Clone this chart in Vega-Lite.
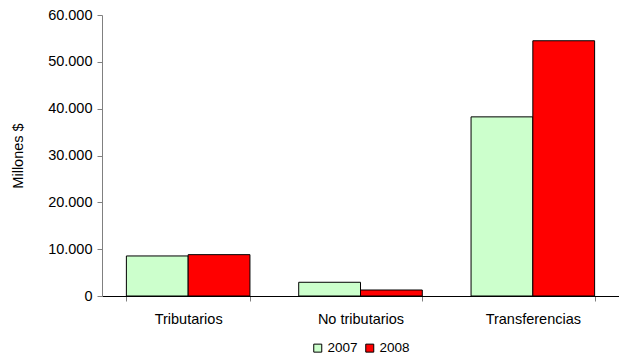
{
  "$schema": "https://vega.github.io/schema/vega-lite/v6.json",
  "autosize": {"type": "none"},
  "width": 517,
  "height": 281,
  "padding": {"left": 102, "top": 15, "right": 0, "bottom": 64},
  "background": "white",
  "config": {
    "view": {"stroke": null},
    "font": "Liberation Sans",
    "locale": {"number": {"decimal": ",", "thousands": ".", "grouping": [3], "currency": ["$", ""]}},
    "axis": {"labelFont": "Liberation Sans", "labelFontSize": 14.5, "labelColor": "black", "domainColor": "#808080", "tickColor": "#808080", "grid": false, "titleFont": "Liberation Sans", "titleFontWeight": "normal", "titleFontSize": 14.5, "titleColor": "black"}
  },
  "data": {
    "values": [
      {"categoria": "Tributarios", "anio": "2007", "valor": 8550},
      {"categoria": "Tributarios", "anio": "2008", "valor": 8830},
      {"categoria": "No tributarios", "anio": "2007", "valor": 2930},
      {"categoria": "No tributarios", "anio": "2008", "valor": 1280},
      {"categoria": "Transferencias", "anio": "2007", "valor": 38250},
      {"categoria": "Transferencias", "anio": "2008", "valor": 54500}
    ]
  },
  "mark": {"type": "bar", "stroke": "black", "strokeWidth": 1},
  "encoding": {
    "x": {
      "field": "categoria", "type": "nominal", "sort": null,
      "scale": {"paddingInner": 0.283, "paddingOuter": 0.1415},
      "axis": {"title": null, "labelAngle": 0, "tickBand": "extent", "tickSize": 5, "labelPadding": 11, "domainColor": "black"}
    },
    "xOffset": {"field": "anio", "type": "nominal", "scale": {"paddingInner": 0, "paddingOuter": 0}},
    "y": {
      "field": "valor", "type": "quantitative",
      "scale": {"domain": [0, 60000], "nice": false},
      "axis": {"title": "Millones $", "format": ",.0f", "values": [0, 10000, 20000, 30000, 40000, 50000, 60000], "tickSize": 5, "labelPadding": 5, "titlePadding": 22}
    },
    "fill": {
      "field": "anio", "type": "nominal",
      "scale": {"domain": ["2007", "2008"], "range": ["#CCFFCC", "#FF0000"]},
      "legend": {"title": null, "orient": "none", "legendX": 209, "legendY": 326, "padding": 0, "direction": "horizontal", "symbolType": "square", "symbolSize": 64, "symbolStrokeColor": "black", "symbolStrokeWidth": 1, "labelFontSize": 13.5, "labelFont": "Liberation Sans", "labelColor": "black", "columnPadding": 5, "labelOffset": 3}
    }
  }
}
